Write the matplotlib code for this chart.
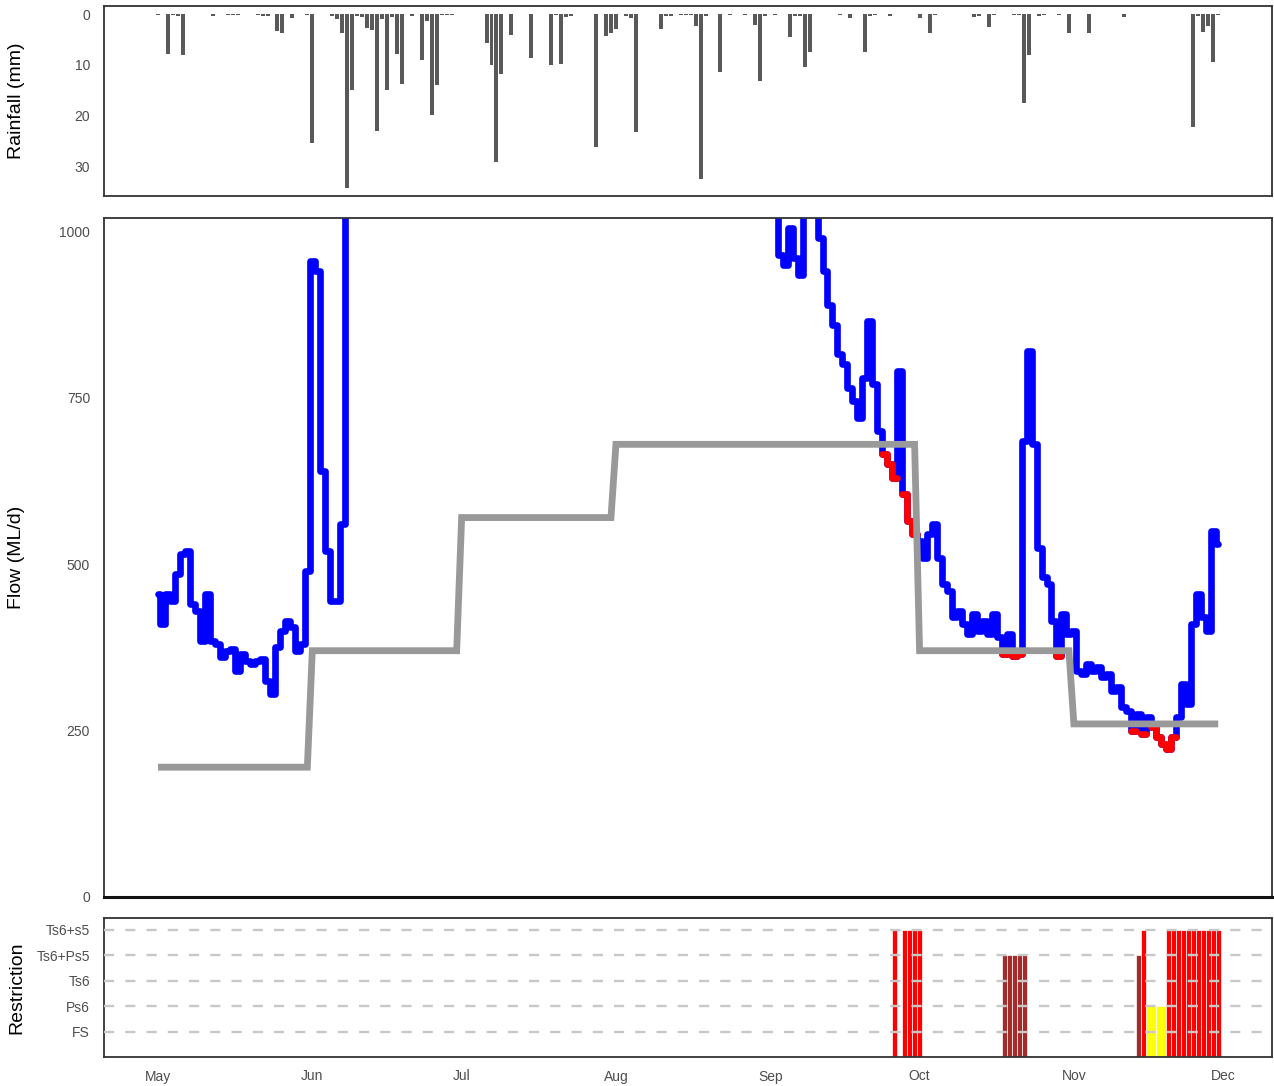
import numpy as np
import pandas as pd
import matplotlib
matplotlib.use("Agg")
import matplotlib.pyplot as plt
import matplotlib.dates as mdates

plt.rcParams['font.family'] = ['Liberation Sans', 'DejaVu Sans']

# ---------------------------------------------------------------- data
season_start = pd.Timestamp('2019-05-01')
season_end = pd.Timestamp('2019-11-30')

# daily river flow (ML/d), one list per month
flow_may = [455, 410, 455, 445, 485, 515, 520, 440, 430, 385, 455, 385, 380, 360, 370,
            372, 340, 365, 355, 350, 355, 358, 325, 305, 375, 400, 415, 405, 370, 380, 490]
flow_jun = [955, 940, 640, 520, 445, 445, 560, 1350, 2900, 2500, 2100, 1900, 2000, 3200, 2800,
            3000, 2600, 2700, 3100, 2700, 2300, 2100, 2400, 2300, 3300, 3000, 2600, 2300, 2100, 1950]
flow_jul = [1850, 1750, 1700, 1650, 1600, 1900, 2600, 3500, 3200, 2800, 2600, 2400, 2300, 2200, 2400,
            2300, 2200, 2100, 2300, 2400, 2500, 2300, 2200, 2100, 2000, 1950, 1900, 3100, 2900, 2700, 2600]
flow_aug = [2500, 2300, 2200, 2400, 3000, 2700, 2400, 2200, 2000, 1900, 1850, 1800, 1750, 1700, 1650,
            1600, 1900, 3400, 3000, 2600, 2300, 2100, 2200, 2000, 1800, 1700, 1600, 1500, 1550, 1800, 1700]
flow_sep = [1400, 1150, 965, 950, 1005, 960, 935, 1060, 1120, 1080, 990, 940, 890, 860, 815,
            800, 765, 745, 720, 780, 865, 770, 700, 665, 650, 630, 790, 605, 565, 545]
flow_oct = [535, 510, 545, 560, 510, 470, 460, 420, 430, 410, 395, 425, 400, 415, 395,
            425, 390, 365, 395, 362, 365, 685, 820, 680, 525, 480, 470, 415, 362, 425, 395]
flow_nov = [400, 340, 335, 350, 340, 345, 330, 335, 310, 315, 285, 280, 250, 275, 245,
            270, 255, 240, 230, 222, 240, 270, 320, 290, 410, 455, 420, 400, 550, 530]

# minimum flow threshold by month (ML/d)
threshold_month = [5, 6, 7, 8, 9, 10, 11]
threshold_value = [195, 370, 570, 680, 680, 370, 260]

# daily rainfall (mm); day counted from 1 May
rain_day = [0, 2, 3, 4, 5, 11, 14, 15, 16, 20, 21, 22, 24, 25, 27, 30, 31, 35, 36, 37,
            38, 39, 40, 41, 42, 43, 44, 45, 46, 47, 48, 49, 51, 53, 54, 55, 56, 57, 58, 59,
            66, 67, 68, 69, 71, 75, 79, 80, 81, 82, 83, 88, 90, 91, 92, 94, 95, 96, 101, 102,
            103, 105, 106, 107, 108, 109, 110, 113, 115, 118, 120, 121, 122, 124, 127, 128, 129, 130, 131, 137,
            139, 142, 143, 144, 147, 153, 155, 156, 164, 165, 167, 168, 172, 173, 174, 175, 177, 178, 181, 183,
            187, 194, 208, 209, 210, 211, 212, 213]
rain_mm = [0.2, 7.8, 0.2, 0.3, 8.0, 0.3, 0.2, 0.2, 0.2, 0.2, 0.3, 0.3, 3.3, 3.8, 0.8, 0.2, 25.5, 0.3, 1.0, 3.8,
           34.3, 15.0, 0.3, 0.5, 2.8, 3.2, 23.1, 1.0, 15.0, 0.5, 7.8, 13.7, 0.3, 9.1, 1.3, 19.9, 14.0, 0.2, 0.2, 0.2,
           5.7, 10.1, 29.1, 11.8, 4.1, 8.7, 10.1, 0.2, 9.8, 0.6, 0.3, 26.2, 4.3, 3.7, 2.9, 0.3, 0.8, 23.2, 3.0, 0.3,
           0.3, 0.2, 0.2, 0.2, 2.4, 32.6, 0.4, 11.5, 0.2, 0.2, 2.2, 13.3, 0.4, 0.2, 4.5, 0.3, 0.3, 10.4, 7.4, 0.2,
           0.8, 7.4, 0.4, 0.2, 0.3, 0.8, 3.8, 0.2, 0.6, 0.4, 2.6, 0.2, 0.2, 0.2, 17.5, 8.1, 0.3, 0.2, 0.2, 3.8,
           3.8, 0.5, 22.3, 0.3, 3.6, 2.3, 9.4, 0.2]

# pumping restriction in force; day counted from 1 May
restriction_names = ['FS', 'Ps6', 'Ts6', 'Ts6+Ps5', 'Ts6+s5']
restriction_colors = {'Ps6': '#FFFF00', 'Ts6+Ps5': '#A52A2A', 'Ts6+s5': '#FF0000'}
restriction_day = [148, 150, 151, 152, 153, 170, 171, 172, 173, 174,
                   197, 198, 199, 200, 201, 202, 203, 204, 205, 206, 207, 208, 209, 210, 211, 212, 213]
restriction_level = ['Ts6+s5', 'Ts6+s5', 'Ts6+s5', 'Ts6+s5', 'Ts6+s5',
                     'Ts6+Ps5', 'Ts6+Ps5', 'Ts6+Ps5', 'Ts6+Ps5', 'Ts6+Ps5',
                     'Ts6+Ps5', 'Ts6+s5', 'Ps6', 'Ps6', 'Ps6', 'Ps6',
                     'Ts6+s5', 'Ts6+s5', 'Ts6+s5', 'Ts6+s5', 'Ts6+s5', 'Ts6+s5', 'Ts6+s5', 'Ts6+s5',
                     'Ts6+s5', 'Ts6+s5', 'Ts6+s5']

# ---------------------------------------------------------------- prepare
dates = pd.date_range(season_start, season_end, freq='D')
flow = np.array(flow_may + flow_jun + flow_jul + flow_aug + flow_sep + flow_oct + flow_nov, dtype=float)
month_thr = dict(zip(threshold_month, threshold_value))
threshold = np.array([month_thr[d.month] for d in dates], dtype=float)

x = mdates.date2num(dates)
x0 = mdates.date2num(season_start)
rain_x = x0 + np.array(rain_day)
res_x = x0 + np.array(restriction_day)
res_y = [restriction_names.index(n) + 1 for n in restriction_level]
res_c = [restriction_colors[n] for n in restriction_level]

flow_low = np.where(flow < threshold, flow, np.nan)

# ---------------------------------------------------------------- figure
W, H = 1274, 1086
fig = plt.figure(figsize=(W / 100, H / 100), dpi=100)
fig.patch.set_facecolor('white')

left, width = 104 / W, 1168 / W
ax_rain = fig.add_axes([left, 1 - 196 / H, width, 190 / H])
ax_flow = fig.add_axes([left, 1 - 897 / H, width, 679 / H])
ax_res = fig.add_axes([left, 1 - 1057 / H, width, 139 / H])

xlim = (x0 - 10.85, x0 + 223.8)
tick_col = '#4D4D4D'
for ax in (ax_rain, ax_flow, ax_res):
    ax.set_xlim(*xlim)
    ax.set_facecolor('white')
    for s in ax.spines.values():
        s.set_color('#333333')
        s.set_linewidth(1.3)
    ax.tick_params(axis='both', length=0, labelsize=10, colors=tick_col, pad=10)
    ax.xaxis.set_major_locator(mdates.MonthLocator())
    ax.xaxis.set_major_formatter(mdates.DateFormatter('%b'))
    ax.yaxis.set_label_coords(-79 / 1168, 0.5)

ax_rain.tick_params(axis='x', labelbottom=False)
ax_flow.tick_params(axis='x', labelbottom=False)
ax_res.tick_params(axis='x', pad=9)

# rainfall, hanging from the top
ax_rain.bar(rain_x, rain_mm, width=0.8, color='#595959', linewidth=0)
ax_rain.set_ylim(35.9, -1.6)
ax_rain.set_yticks([0, 10, 20, 30])
ax_rain.set_ylabel('Rainfall (mm)', fontsize=14)

# flow against the threshold
line_kw = dict(drawstyle='steps-mid', solid_capstyle='round', solid_joinstyle='round')
ax_flow.plot(x, flow, color='#0000FF', lw=4.8, zorder=2, **line_kw)
ax_flow.plot(x, flow_low, color='#FF0000', lw=4.8, zorder=3, **line_kw)
ax_flow.plot(x, threshold, color='#999999', lw=4.9, zorder=4,
             solid_capstyle='butt', solid_joinstyle='miter')
ax_flow.set_ylim(0, 1020)
ax_flow.set_yticks([0, 250, 500, 750, 1000])
ax_flow.set_ylabel('Flow (ML/d)', fontsize=14)
ax_flow.spines['bottom'].set_linewidth(2.2)
ax_flow.spines['bottom'].set_color('#111111')

# restriction levels
ax_res.bar(res_x, res_y, width=1.0, color=res_c, edgecolor='white', linewidth=0.5, zorder=2)
for lvl in range(1, len(restriction_names) + 1):
    ax_res.axhline(lvl, color='#C8C8C8', lw=1.7, ls=(0, (4.3, 4.7)), zorder=3)
ax_res.set_ylim(0, 5.47)
ax_res.set_yticks(range(1, len(restriction_names) + 1))
ax_res.set_yticklabels(restriction_names)
ax_res.set_ylabel('Restriction', fontsize=14)

fig.savefig('out.png', dpi=100, facecolor='white')
